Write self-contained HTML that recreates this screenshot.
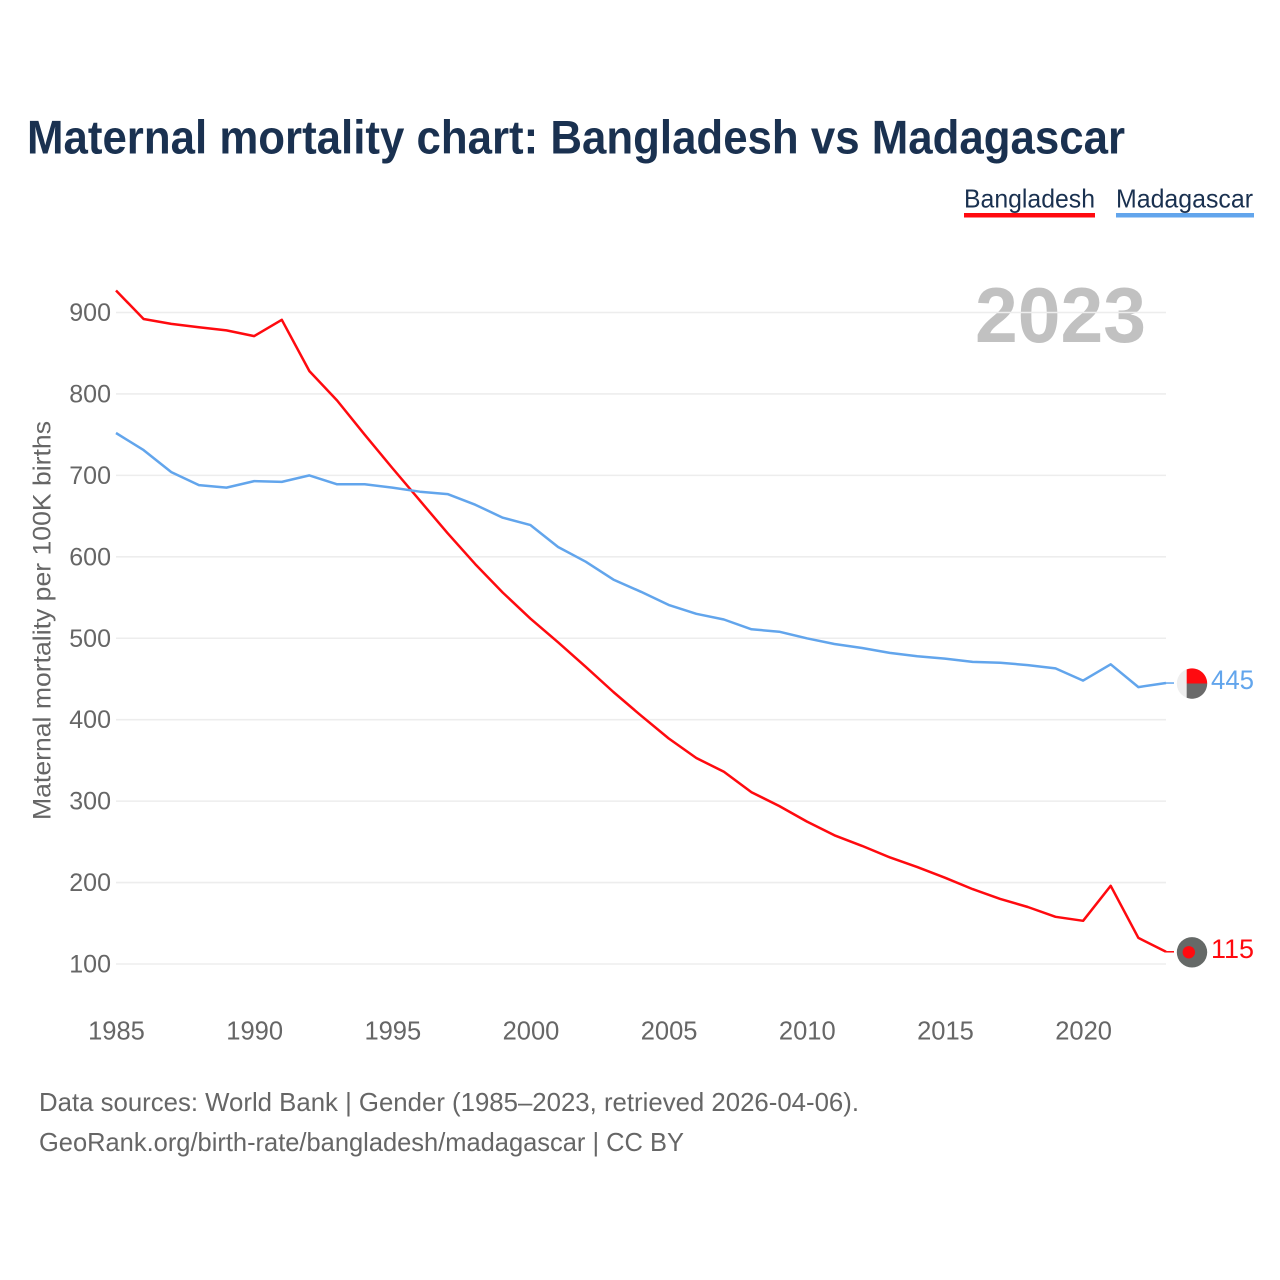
<!DOCTYPE html>
<html lang="en">
<head>
<meta charset="utf-8">
<title>Maternal mortality chart: Bangladesh vs Madagascar</title>
<style>
html,body{margin:0;padding:0;background:#fff;width:1280px;height:1280px;overflow:hidden}
svg{display:block}
text{font-family:"Liberation Sans",sans-serif}
</style>
</head>
<body>
<svg id="chart" xmlns="http://www.w3.org/2000/svg" width="1280" height="1280" viewBox="0 0 1280 1280">
  <text x="27" y="153.5" font-size="47" font-weight="700" fill="#1a3150" textLength="1098" lengthAdjust="spacingAndGlyphs">Maternal mortality chart: Bangladesh vs Madagascar</text>
  <g>
    <g>
      <text x="964" y="207.5" font-size="26" fill="#1a3150" textLength="131" lengthAdjust="spacingAndGlyphs">Bangladesh</text>
      <rect x="964" y="213" width="131" height="4.5" fill="#ff0a0f"/>
    </g>
    <g>
      <text x="1116" y="207.5" font-size="26" fill="#1a3150" textLength="137" lengthAdjust="spacingAndGlyphs">Madagascar</text>
      <rect x="1116" y="213" width="138" height="4.5" fill="#62a5ec"/>
    </g>
  </g>
  <text x="1146" y="342" text-anchor="end" font-size="78" font-weight="700" fill="#c1c1c1" textLength="171" lengthAdjust="spacingAndGlyphs">2023</text>
  <g id="grid"></g>
  <g id="yticks"></g>
  <g id="xticks"></g>
  <text transform="translate(50.5,820) rotate(-90)" font-size="25" fill="#666" textLength="399" lengthAdjust="spacingAndGlyphs">Maternal mortality per 100K births</text>
  <g id="series"></g>
  <g id="ends"></g>
  <text x="39" y="1111" font-size="26" fill="#666" textLength="820" lengthAdjust="spacingAndGlyphs">Data sources: World Bank | Gender (1985–2023, retrieved 2026-04-06).</text>
  <text x="39" y="1151" font-size="26" fill="#666" textLength="645" lengthAdjust="spacingAndGlyphs">GeoRank.org/birth-rate/bangladesh/madagascar | CC BY</text>
</svg>
<script>
const years = [1985,1986,1987,1988,1989,1990,1991,1992,1993,1994,1995,1996,1997,1998,1999,2000,2001,2002,2003,2004,2005,2006,2007,2008,2009,2010,2011,2012,2013,2014,2015,2016,2017,2018,2019,2020,2021,2022,2023];
const bangladesh = [927,892,886,882,878,871,891,828,792,750,709,669,629,591,556,524,495,465,434,405,377,353,336,311,294,275,258,245,231,219,206,192,180,170,158,153,196,132,115];
const madagascar = [752,731,704,688,685,693,692,700,689,689,685,680,677,664,648,639,612,594,572,557,541,530,523,511,508,500,493,488,482,478,475,471,470,467,463,448,468,440,445];
const yTicks = [100,200,300,400,500,600,700,800,900];
const xTicks = [1985,1990,1995,2000,2005,2010,2015,2020];

const NS = 'http://www.w3.org/2000/svg';
const RED = '#ff0a0f';
const BLUE = '#62a5ec';
function xScale(year){ return 116 + (year - 1985) * (1166 - 116) / (2023 - 1985); }
function yScale(value){ return 964 - (value - 100) * (964 - 312.5) / (900 - 100); }
function make(tag, attrs){
  const el = document.createElementNS(NS, tag);
  for (const k in attrs) el.setAttribute(k, attrs[k]);
  return el;
}
const grid = document.getElementById('grid');
const yG = document.getElementById('yticks');
const xG = document.getElementById('xticks');
const seriesG = document.getElementById('series');
const endsG = document.getElementById('ends');

yTicks.forEach(function(t){
  const line = make('line', {x1:116, x2:1166, y1:yScale(t), y2:yScale(t), stroke:'#ededed', 'stroke-width':1.6});
  
  
  grid.appendChild(line);
  const label = make('text', {x:111, y:yScale(t) + 8.5, 'text-anchor':'end', 'font-size':25, fill:'#666'});
  
  
  label.textContent = t;
  yG.appendChild(label);
});

xTicks.forEach(function(t){
  const label = make('text', {x:xScale(t) + 0.5, y:1039.5, 'text-anchor':'middle', 'font-size':25.5, fill:'#666'});
  
  
  label.textContent = t;
  xG.appendChild(label);
});

function drawSeries(values, color, name){
  const pts = values.map(function(v, i){ return xScale(years[i]).toFixed(1) + ',' + yScale(values[i]).toFixed(1); }).join(' ');
  const line = make('polyline', {points:pts, fill:'none', stroke:color, 'stroke-width':2.5, 'stroke-linejoin':'round'});
  
  
  seriesG.appendChild(line);
  const last = values[values.length - 1];
  const lastY = yScale(last);
  const stub = make('line', {x1:xScale(2023), x2:xScale(2023) + 8, y1:lastY, y2:lastY, stroke:color, 'stroke-width':1.5});
  
  
  seriesG.appendChild(stub);
  const label = make('text', {x:1254, y:lastY + 6, 'text-anchor':'end', 'font-size':26.5, fill:color, textLength:43, lengthAdjust:'spacingAndGlyphs'});
  
  
  label.textContent = last;
  endsG.appendChild(label);
  return lastY;
}
const yB = drawSeries(bangladesh, RED, 'bangladesh');
const yM = drawSeries(madagascar, BLUE, 'madagascar');

const cx = 1192, r = 15.2, splitX = 1186.7, chord = 14.2;
const mCy = yM + 0.5;
const mLeft = make('circle', {cx:cx, cy:mCy, r:r, fill:'#eeeeee'});


endsG.appendChild(mLeft);
const mTop = make('path', {d:'M'+splitX+' '+mCy+'V'+(mCy-chord)+'A'+r+' '+r+' 0 0 1 '+(cx+r)+' '+mCy+'Z', fill:'#ff0a0f'});


endsG.appendChild(mTop);
const mBot = make('path', {d:'M'+splitX+' '+mCy+'H'+(cx+r)+'A'+r+' '+r+' 0 0 1 '+splitX+' '+(mCy+chord)+'Z', fill:'#6a6a6a'});


endsG.appendChild(mBot);

const bOuter = make('circle', {cx:cx, cy:yB + 0.5, r:r, fill:'#656967'});


endsG.appendChild(bOuter);
const bInner = make('circle', {cx:1188.8, cy:yB + 0.5, r:6.2, fill:'#ff0a0f'});


endsG.appendChild(bInner);
</script>
</body>
</html>
